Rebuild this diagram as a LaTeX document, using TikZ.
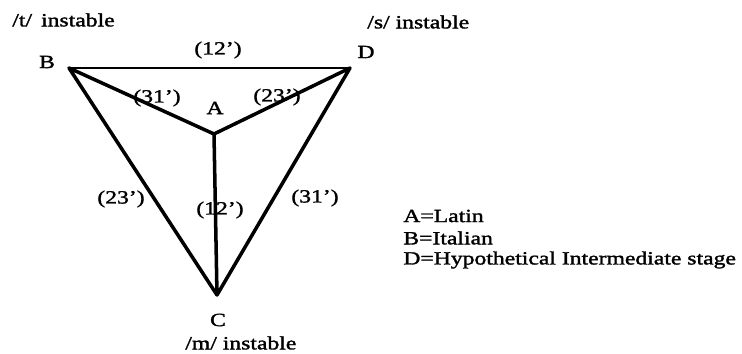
\documentclass[tikz,border=0pt]{standalone}
\usepackage{fontspec}
\setmainfont{Liberation Serif}[FakeStretch=1.27,FakeBold=1.6]
\usepackage{tikz}
\tikzset{
  lnk/.style={draw=black,line width=2pt,line cap=round,line join=round},
  lnkt/.style={draw=black,line width=1.4pt,line cap=round},
  lb/.style={font=\fontsize{10.6}{12}\selectfont,inner sep=0pt},
  % legend lines and the "instable" notes are set flush left
  tb/.style={lb,anchor=west},
}
\begin{document}
\begin{tikzpicture}
\useasboundingbox (0,0) rectangle (14.84,7.08);
\coordinate (B) at (1.38,5.72); \coordinate (D) at (7.00,5.72);
\coordinate (A) at (4.28,4.40); \coordinate (C) at (4.34,1.18);
\draw[lnkt] (B)--(D);
\draw[lnk] (B)--(C)--(D) (B)--(A)--(D) (A)--(C);
\node[lb] (lB) at (0.94,5.84) {B};
\node[lb] (lD) at (7.32,6.04) {D};
\node[lb] (lA) at (4.30,4.92) {A};
\node[lb] (lC) at (4.36,0.68) {C};
% edge labels
\node[lb] (eBD) at (4.36,6.08) {(12')};
\node[lb] (eBA) at (3.14,5.12) {(31')};
\node[lb] (eAD) at (5.54,5.14) {(23')};
\node[lb] (eBC) at (2.42,3.10) {(23')};
\node[lb] (eAC) at (4.40,2.88) {(12')};
\node[lb] (eDC) at (6.30,3.12) {(31')};
\node[tb] (nt) at (0.24,6.68) {/t/ \,instable};
\node[tb] (ns) at (7.34,6.64) {/s/ instable};
\node[tb] (nm) at (3.70,0.22) {/m/ instable};
\node[tb] (gA) at (8.06,2.76) {A=Latin};
\node[tb] (gB) at (8.06,2.32) {B=Italian};
\node[tb] (gD) at (8.06,1.88) {D=Hypothetical Intermediate stage};
\end{tikzpicture}
\end{document}
